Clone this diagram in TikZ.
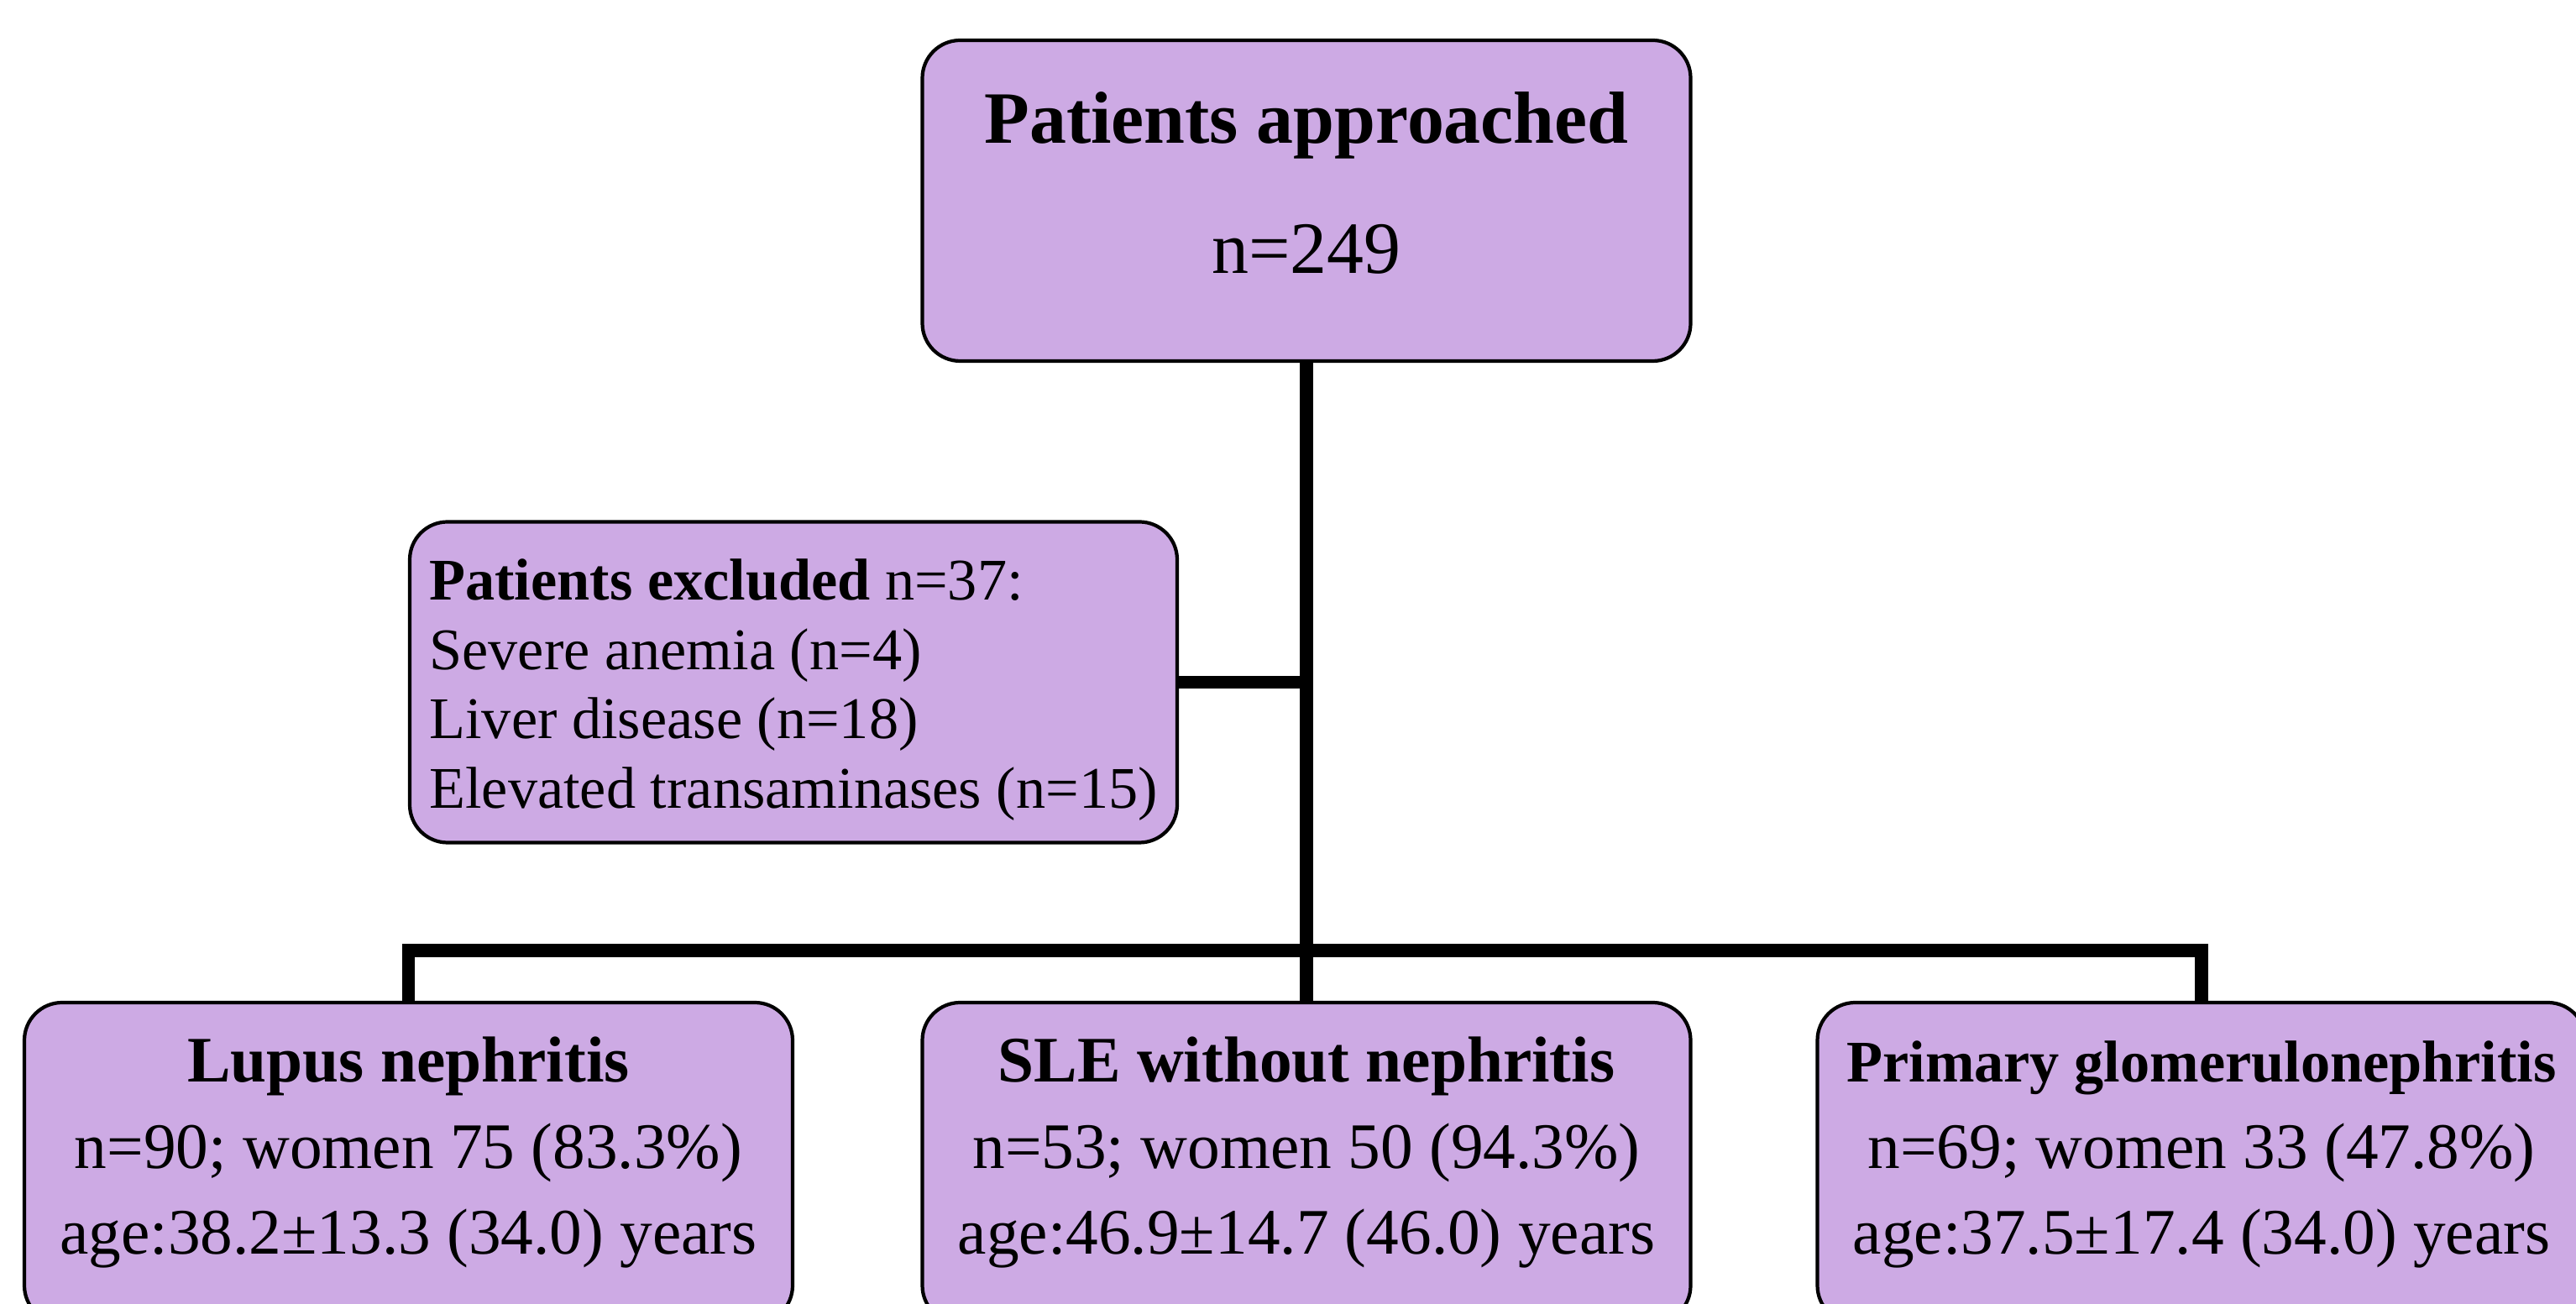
\documentclass[tikz,border=0pt]{standalone}
\usepackage{fontspec}
\setmainfont{Liberation Serif}
\definecolor{lilac}{RGB}{205,170,228}
\tikzset{
  flowbox/.style={draw=black,line width=1.2pt,fill=lilac,rounded corners=0.45cm,
    minimum width=9.15cm,minimum height=3.82cm,inner sep=0pt,align=center},
  groupbox/.style={flowbox,font=\fontsize{22}{29.3}\selectfont,text height=2.4cm,text depth=0.22cm},
  link/.style={line width=4.5pt},
}
\begin{document}
\begin{tikzpicture}
\useasboundingbox (0,0) rectangle (30.68,15.53);
\clip (0,0) rectangle (30.68,15.53);
\pgfmathsetmacro{\cx}{15.56}\pgfmathsetmacro{\by}{1.68}
\node[flowbox,text height=1.73cm,text depth=0cm,font=\fontsize{25}{30}\selectfont] (appr) at (\cx,13.14)
  {\textbf{Patients approached}\\[14pt]n=249};
\node[flowbox,minimum width=9.14cm,align=left,text height=3.14cm,text depth=0.14cm,
  font=\fontsize{20}{23.5}\selectfont] (excl) at (9.45,7.405)
  {\textbf{Patients excluded} n=37:\\Severe anemia (n=4)\\Liver disease (n=18)\\Elevated transaminases (n=15)};
\node[groupbox] (lupus) at (4.865,\by)
  {\textbf{Lupus nephritis}\\n=90; women 75 (83.3\%)\\age:38.2±13.3 (34.0) years};
\node[groupbox] (sle) at (\cx,\by)
  {\textbf{SLE without nephritis}\\n=53; women 50 (94.3\%)\\age:46.9±14.7 (46.0) years};
\node[groupbox] (pgn) at (26.22,\by)
  {{\fontsize{20}{29.3}\selectfont\textbf{Primary glomerulonephritis}}\\n=69; women 33 (47.8\%)\\age:37.5±17.4 (34.0) years};
\coordinate (split) at (\cx,4.21);
% trunk and branches
\draw[link] (appr.south) -- (sle.north);
\draw[link] (excl.east) -- (excl.east -| appr.south);
\draw[link] (lupus.north) |- (split) -| (pgn.north);
\end{tikzpicture}
\end{document}
